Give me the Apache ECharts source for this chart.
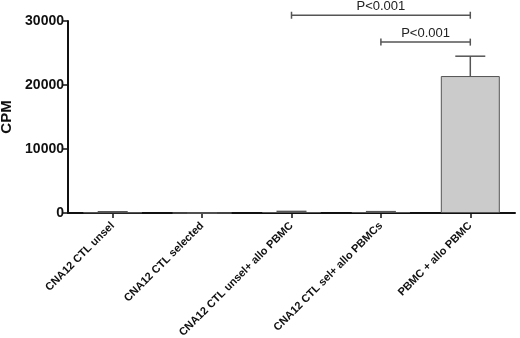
<!DOCTYPE html>
<html>
<head>
<meta charset="utf-8">
<script src="https://cdn.jsdelivr.net/npm/echarts@6/dist/echarts.min.js"></script>
<style>
    html, body { margin: 0; padding: 0; background: #fff; }
    #chart { width: 520px; height: 338px; }
</style>
</head>
<body>
<div id="chart"></div>
<script>
// 数据
var categories = ['CNA12 CTL unsel', 'CNA12 CTL selected', 'CNA12 CTL unsel+ allo PBMC',
    'CNA12 CTL sel+ allo PBMCs', 'PBMC + allo PBMC'];
var cpmValues = [100, 0, 150, 150, 21400];
var cpmErrors = [100, 0, 100, 60, 3100];
var yTicks = [0, 10000, 20000, 30000];
// 显著性标注: [起始类目, 结束类目, 高度(CPM), 文本]
var brackets = [
    [2, 4, 30900, 'P<0.001'],
    [3, 4, 26700, 'P<0.001']
];

window.onload = function () {
    cpmChart();
};

/**
 * CPM 柱状图
 */
function cpmChart() {
    var myChart = echarts.init(document.getElementById('chart'));
    var font = '"Liberation Sans", Arial, sans-serif';
    var option = {
        animation: false,
        grid: {
            left: 68,
            right: 5,
            top: 21,
            bottom: 125,
            outerBoundsMode: 'none',
            containLabel: false
        },
        xAxis: {
            type: 'category',
            data: categories,
            axisLine: {lineStyle: {color: '#111', width: 2}},
            axisTick: {show: true, alignWithLabel: true, length: 5, lineStyle: {color: '#111', width: 1.5}},
            axisLabel: {
                rotate: 45,
                margin: 11,
                fontFamily: font,
                fontWeight: 'bold',
                fontSize: 11,
                color: '#111'
            }
        },
        yAxis: {
            type: 'value',
            min: 0,
            max: 30000,
            interval: 10000,
            name: 'CPM',
            nameLocation: 'middle',
            nameGap: 46,
            nameTextStyle: {fontFamily: font, fontWeight: 'bold', fontSize: 15, color: '#111'},
            splitLine: {show: false},
            axisLine: {show: true, lineStyle: {color: '#111', width: 2}},
            axisTick: {show: true, length: 5, lineStyle: {color: '#111', width: 1.5}},
            axisLabel: {
                margin: 4,
                fontFamily: font,
                fontWeight: 'bold',
                fontSize: 14,
                color: '#111',
                formatter: function (v) {
                    return yTicks.indexOf(v) >= 0 ? String(v) : '';
                }
            }
        },
        series: [
            {
                type: 'bar',
                data: cpmValues,
                barWidth: 59,
                itemStyle: {color: '#cbcbcb', borderColor: '#555', borderWidth: 1}
            },
            {
                // 误差线
                type: 'custom',
                data: cpmValues.map(function (v, i) {
                    return [i, v, v + cpmErrors[i]];
                }),
                renderItem: function (params, api) {
                    var base = api.coord([api.value(0), api.value(1)]);
                    var top = api.coord([api.value(0), api.value(2)]);
                    var hw = 15;
                    return {
                        type: 'group',
                        children: [
                            {type: 'line', shape: {x1: base[0], y1: base[1], x2: top[0], y2: top[1]},
                                style: {stroke: '#555', lineWidth: 1.5}},
                            {type: 'line', shape: {x1: top[0] - hw, y1: top[1], x2: top[0] + hw, y2: top[1]},
                                style: {stroke: '#555', lineWidth: 1.5}}
                        ]
                    };
                },
                z: 3
            },
            {
                // 显著性括号
                type: 'custom',
                clip: false,
                data: brackets,
                renderItem: function (params, api) {
                    var p1 = api.coord([api.value(0), api.value(2)]);
                    var p2 = api.coord([api.value(1), api.value(2)]);
                    var txt = brackets[params.dataIndex][3];
                    return {
                        type: 'group',
                        children: [
                            {type: 'line', shape: {x1: p1[0], y1: p1[1], x2: p2[0], y2: p2[1]},
                                style: {stroke: '#555', lineWidth: 1.5}},
                            {type: 'line', shape: {x1: p1[0], y1: p1[1] - 3.5, x2: p1[0], y2: p1[1] + 3.5},
                                style: {stroke: '#555', lineWidth: 1.5}},
                            {type: 'line', shape: {x1: p2[0], y1: p2[1] - 3.5, x2: p2[0], y2: p2[1] + 3.5},
                                style: {stroke: '#555', lineWidth: 1.5}},
                            {type: 'text', x: (p1[0] + p2[0]) / 2, y: p1[1] - 2,
                                style: {text: txt, align: 'center', verticalAlign: 'bottom',
                                    font: '13px ' + font, fill: '#222'}}
                        ]
                    };
                },
                z: 4
            }
        ]
    };
    myChart.setOption(option, true);
}
</script>
</body>
</html>
